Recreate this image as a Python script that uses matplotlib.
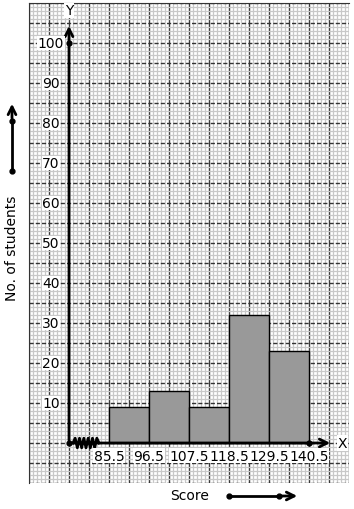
import numpy as np
import matplotlib.pyplot as plt

# class boundaries and frequencies
edges = [85.5, 96.5, 107.5, 118.5, 129.5, 140.5]
freq = [9, 13, 9, 32, 23]
y_labels = [10, 20, 30, 40, 50, 60, 70, 80, 90, 100]

fig = plt.figure(figsize=(3.54, 5.10), dpi=100)
ax = fig.add_axes([29/354, 26/510, 320/354, 480/510])
ax.set_xlim(-1, 7)
ax.set_ylim(-10, 110)

# graph paper
ax.set_xticks(np.arange(-1, 7.01, 0.5))
ax.set_xticks(np.arange(-1, 7.01, 0.1), minor=True)
ax.set_yticks(np.arange(-10, 110.1, 5))
ax.set_yticks(np.arange(-10, 110.1, 1), minor=True)
ax.tick_params(which='both', length=0, labelbottom=False, labelleft=False)
ax.grid(which='minor', color='#c8c8c8', lw=0.9)
ax.xaxis.grid(which='major', color='#3a3a3a', lw=1.0)
ax.yaxis.grid(which='major', color='#333333', lw=1.0, ls=(0, (3, 1.5)))
ax.set_axisbelow(True)
for s in ['top', 'left']:
    ax.spines[s].set_color('#333333')
for s in ['right', 'bottom']:
    ax.spines[s].set_visible(False)

# bars
pos = np.arange(1, len(freq) + 1)
ax.bar(pos, freq, width=1, align='edge', color='#999999', edgecolor='black', lw=1, zorder=3)

# axes lines
ax.annotate('', xy=(0, 105), xytext=(0, 0),
            arrowprops=dict(arrowstyle='->', lw=2, color='black', mutation_scale=14), zorder=4)
ax.annotate('', xy=(6.6, 0), xytext=(0, 0),
            arrowprops=dict(arrowstyle='->', lw=2, color='black', mutation_scale=14), zorder=4)
ax.plot([0, 0, 6], [100, 0, 0], 'o', color='black', ms=3.5, zorder=5)
ax.text(0, 108.2, 'Y', ha='center', va='center', fontsize=10,
        bbox=dict(facecolor='white', edgecolor='none', pad=0.5), zorder=5)
ax.text(6.72, 0, 'X', ha='left', va='center', fontsize=10,
        bbox=dict(facecolor='white', edgecolor='none', pad=0.5), zorder=5)

# zigzag break
zx = np.linspace(0.1, 0.75, 13)
zy = np.array([0] + [1, -1] * 6)[:13] * 1.2
zy[-1] = 0
ax.plot(zx, zy, color='black', lw=2, zorder=5)

for v in y_labels:
    ax.text(-0.45, v, str(v), ha='center', va='center', fontsize=10,
            bbox=dict(facecolor='white', edgecolor='none', pad=0.3), zorder=5)
for i, e in enumerate(edges):
    ax.text(i + 1, -3.2, str(e), ha='center', va='center', fontsize=10,
            bbox=dict(facecolor='white', edgecolor='none', pad=0.3), zorder=5)

# outside labels and direction arrows
fig.text(12/354, 1 - 248/510, 'No. of students', rotation=90, ha='center', va='center', fontsize=10)
fig.text(190/354, 1 - 496/510, 'Score', ha='center', va='center', fontsize=10)
fig.add_artist(plt.Line2D([12/354, 12/354], [1 - 172/510, 1 - 122/510], color='black', lw=2))
fig.add_artist(plt.Line2D([229/354, 279/354], [1 - 497/510, 1 - 497/510], color='black', lw=2))
ax.annotate('', xy=(12/354, 1 - 102/510), xytext=(12/354, 1 - 122/510), xycoords='figure fraction',
            arrowprops=dict(arrowstyle='->', lw=2, color='black', mutation_scale=14))
ax.annotate('', xy=(300/354, 1 - 497/510), xytext=(279/354, 1 - 497/510), xycoords='figure fraction',
            arrowprops=dict(arrowstyle='->', lw=2, color='black', mutation_scale=14))
for fx, fy in [(12, 122), (12, 172), (229, 497), (279, 497)]:
    fig.add_artist(plt.Line2D([fx/354], [1 - fy/510], marker='o', ms=3.5, color='black'))

fig.savefig('out.png', dpi=100)
